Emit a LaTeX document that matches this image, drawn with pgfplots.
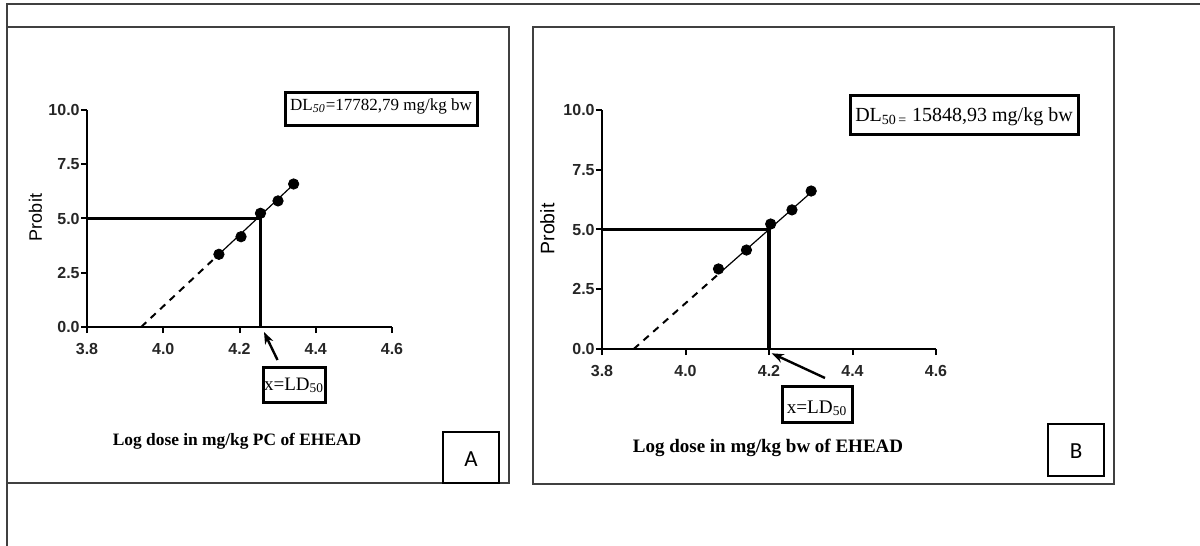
\documentclass[border=0pt]{standalone}
\usepackage{pgfplots}
\pgfplotsset{compat=1.18}
\usepackage{fontspec}
\setmainfont{Liberation Serif}
\newfontfamily\arial{Liberation Sans}
\newfontfamily\calibri{Carlito}
\usetikzlibrary{arrows.meta}
\newcommand{\fs}[1]{\fontsize{#1bp}{#1bp}\selectfont}
\pgfplotsset{probit/.style={scale only axis, anchor=south west,
  xmin=3.8, xmax=4.6, ymin=0, ymax=10,
  axis lines=left, axis line style={-, line width=1bp, black},
  tick align=outside, major tick length=3bp, tick style={black, line width=1bp},
  xtick={3.8,4.0,4.2,4.4,4.6}, xticklabels={3.8,4.0,4.2,4.4,4.6},
  ytick={0,2.5,5,7.5,10}, yticklabels={0.0,2.5,5.0,7.5,10.0},
  ticklabel style={font=\arial\bfseries\fs{8}, text=black!85},
  yticklabel style={inner xsep=0.5bp}, xticklabel style={yshift=-1.5bp},
  clip=false}}
\begin{document}
\begin{tikzpicture}[x=0.5bp,y=-0.5bp]
\path[use as bounding box] (0,0) rectangle (1200,546);
\draw[black!75, line width=1bp] (6.5,546) -- (6.5,4) -- (1200,4);
\draw[black!75, line width=1bp] (6.5,27) rectangle (509,483);
\draw[black!75, line width=1bp] (533,27) rectangle (1114,484);
\coordinate (oA) at (87,327);
\coordinate (oB) at (602,349);

\begin{axis}[probit, at={(oA)}, width=152.5bp, height=108.5bp]
\addplot[black, line width=1bp, dash pattern=on 3.5bp off 3bp] coordinates {(3.942,0) (4.146,3.35)};
\addplot[black, line width=0.6bp] coordinates {(4.146,3.35) (4.343,6.59)};
\addplot[only marks, mark=*, mark size=2.6bp, black] coordinates {(4.146,3.35) (4.204,4.16) (4.255,5.24) (4.301,5.81) (4.342,6.59)};
\addplot[black, line width=1.8bp, line join=miter] coordinates {(3.8,5) (4.255,5) (4.255,0)};
\end{axis}

\begin{axis}[probit, at={(oB)}, width=167bp, height=119.5bp]
\addplot[black, line width=1bp, dash pattern=on 3.5bp off 3bp] coordinates {(3.876,0) (4.08,3.15)};
\addplot[black, line width=0.6bp] coordinates {(4.08,3.15) (4.2,5.0) (4.302,6.57)};
\addplot[only marks, mark=*, mark size=2.6bp, black] coordinates {(4.079,3.35) (4.146,4.14) (4.204,5.23) (4.255,5.82) (4.301,6.61)};
\addplot[black, line width=1.8bp, line join=miter] coordinates {(3.8,5) (4.2,5) (4.2,0)};
\end{axis}

% panel A texts
\node[font=\arial\fs{9}, rotate=90] at (35.5,217.5) {Probit};
\node[font=\bfseries\fs{8.7}, anchor=base] at (237,445) {Log dose in mg/kg PC of EHEAD};
\draw[line width=1.5bp] (285,93) rectangle (477,126);
\node[font=\fs{8.5}, anchor=base, inner sep=0pt] at (381,110.5) {DL\textsubscript{\itshape 50}=17782,79 mg/kg bw};
\draw[line width=1.5bp] (263,367) rectangle (325,402);
\node[font=\fs{9.5}, anchor=base, inner sep=0pt] at (294,390) {x=LD\textsubscript{50}};
\draw[line width=1.2bp, -{Stealth[length=6bp,width=4.5bp]}] (277.5,360) -- (264,332);
\draw[line width=0.7bp] (443,432) rectangle (499,483);
\node[font=\calibri\fs{11.5}] at (471,459) {A};

% panel B texts
\node[font=\arial\fs{9.75}, rotate=90] at (547.5,229) {Probit};
\node[font=\bfseries\fs{9.5}, anchor=base] at (768,452.5) {Log dose in mg/kg bw of EHEAD};
\draw[line width=1.5bp] (850,96) rectangle (1078,135);
\node[font=\fs{10}, anchor=base, inner sep=0pt] at (964,121.7) {DL\textsubscript{50\,=} 15848,93 mg/kg bw};
\draw[line width=1.5bp] (782,386) rectangle (852,422);
\node[font=\fs{9.6}, anchor=base, inner sep=0pt] at (817,413) {x=LD\textsubscript{50}};
\draw[line width=1.2bp, -{Stealth[length=6bp,width=4.5bp]}] (825,378) -- (771.7,353.3);
\draw[line width=0.7bp] (1048,424) rectangle (1104,476);
\node[font=\calibri\fs{11.5}] at (1076,451) {B};
\end{tikzpicture}
\end{document}
